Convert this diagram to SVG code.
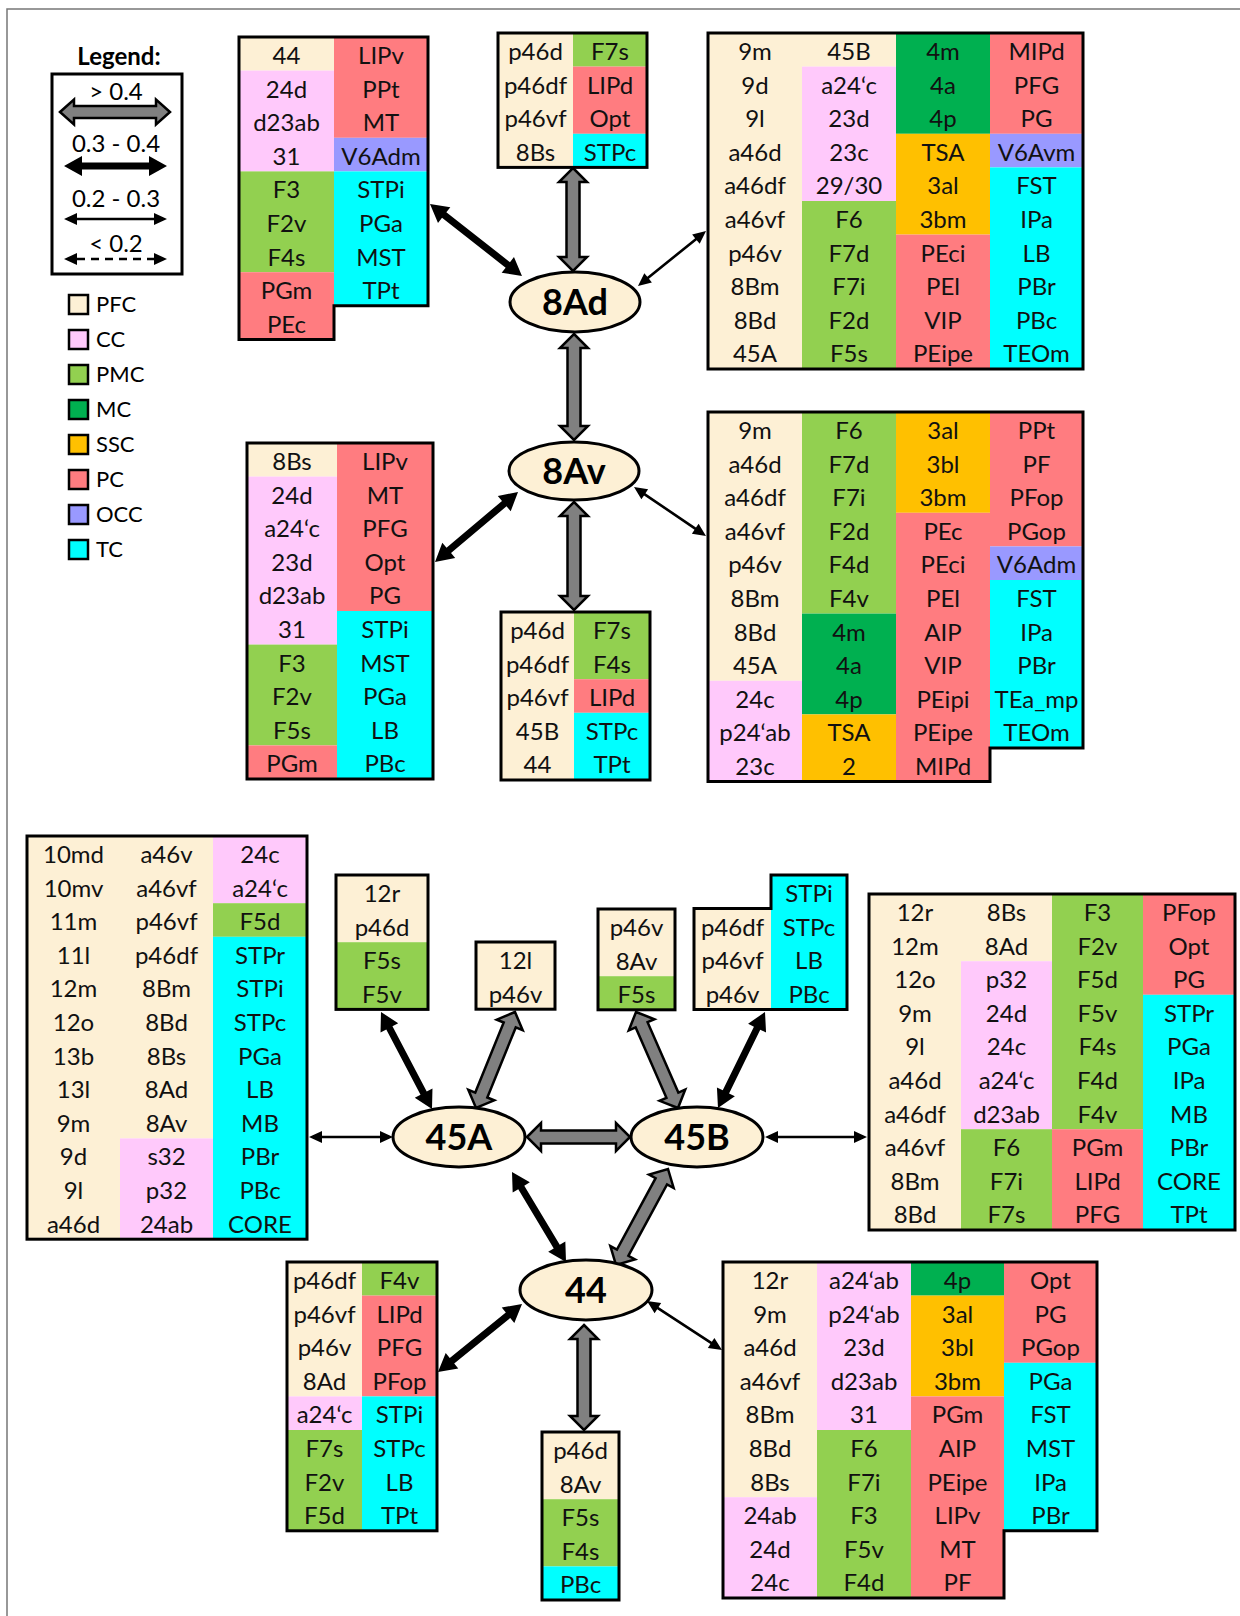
<svg xmlns="http://www.w3.org/2000/svg" width="1240" height="1616" viewBox="0 0 1240 1616">
<style>
.pfc{fill:#FDF0D5}.cc{fill:#FFC9FB}.pmc{fill:#92D050}.mc{fill:#00B050}.ssc{fill:#FFC000}.pc{fill:#FF7C80}.occ{fill:#9999FF}.tc{fill:#00FFFF}
.t{font-family:Lato,"Liberation Sans",sans-serif;font-size:24px;fill:#111;text-anchor:middle}
.ol{fill:none;stroke:#000;stroke-width:3}
.node ellipse{fill:#FDF0D5;stroke:#000;stroke-width:3}
.nl{font-family:Lato,"Liberation Sans",sans-serif;font-weight:bold;font-size:36px;text-anchor:middle;fill:#000}
.ga{fill:#808080;stroke:#000;stroke-width:2.5}
.ba{fill:#000}
.lt{font-family:Lato,"Liberation Sans",sans-serif;font-size:24px;fill:#000;text-anchor:middle}
.sw{stroke:#000;stroke-width:2.5}
.st{font-family:Lato,"Liberation Sans",sans-serif;font-size:22px;fill:#000}
</style>
<rect x="0" y="0" width="1240" height="1616" fill="#fff"/>
<rect x="7" y="9" width="1260" height="1640" fill="none" stroke="#777" stroke-width="1.5"/>

<g id="legend">
<text x="119" y="65" class="lt" font-weight="bold">Legend:</text>
<rect x="52" y="74" width="130" height="200" fill="none" stroke="#000" stroke-width="3"/>
<text x="116" y="100" class="lt">&gt; 0.4</text>
<polygon class="ga" transform="translate(60,112)" points="0,0 14,-12.5 14,-6 96,-6 96,-12.5 110,0 96,12.5 96,6 14,6 14,12.5"/>
<text x="116" y="152" class="lt">0.3 - 0.4</text>
<polygon class="ba" transform="translate(64,166)" points="0,0 18,-10 18,-3.5 85,-3.5 85,-10 103,0 85,10 85,3.5 18,3.5 18,10"/>
<text x="116" y="207" class="lt">0.2 - 0.3</text>
<polygon class="ba" transform="translate(64,219)" points="0,0 13,-6 13,-1.3 90,-1.3 90,-6 103,0 90,6 90,1.3 13,1.3 13,6"/>
<text x="116" y="252" class="lt">&lt; 0.2</text>
<line x1="77" y1="259" x2="154" y2="259" stroke="#000" stroke-width="2.5" stroke-dasharray="8,6"/>
<polygon class="ba" points="64,259 77,253 77,265"/>
<polygon class="ba" points="167,259 154,253 154,265"/>
<rect class="pfc sw" x="69" y="295" width="19" height="19"/><text class="st" x="96" y="312">PFC</text>
<rect class="cc sw" x="69" y="330" width="19" height="19"/><text class="st" x="96" y="347">CC</text>
<rect class="pmc sw" x="69" y="365" width="19" height="19"/><text class="st" x="96" y="382">PMC</text>
<rect class="mc sw" x="69" y="400" width="19" height="19"/><text class="st" x="96" y="417">MC</text>
<rect class="ssc sw" x="69" y="435" width="19" height="19"/><text class="st" x="96" y="452">SSC</text>
<rect class="pc sw" x="69" y="470" width="19" height="19"/><text class="st" x="96" y="487">PC</text>
<rect class="occ sw" x="69" y="505" width="19" height="19"/><text class="st" x="96" y="522">OCC</text>
<rect class="tc sw" x="69" y="540" width="19" height="19"/><text class="st" x="96" y="557">TC</text>
</g>

<g id="connectors">
<polygon class="ga" transform="translate(573,168) rotate(90)" points="0,0 14,-14 14,-6.5 89,-6.5 89,-14 103,0 89,14 89,6.5 14,6.5 14,14"/>
<polygon class="ga" transform="translate(574,334) rotate(90)" points="0,0 14,-14 14,-6.5 92,-6.5 92,-14 106,0 92,14 92,6.5 14,6.5 14,14"/>
<polygon class="ga" transform="translate(574,502) rotate(90)" points="0,0 14,-14 14,-6.5 94,-6.5 94,-14 108,0 94,14 94,6.5 14,6.5 14,14"/>
<polygon class="ga" transform="translate(515,1012) rotate(112.11)" points="0,0 14,-14 14,-6.5 89.6,-6.5 89.6,-14 103.6,0 89.6,14 89.6,6.5 14,6.5 14,14"/>
<polygon class="ga" transform="translate(527,1137)" points="0,0 14,-14 14,-6.5 89,-6.5 89,-14 103,0 89,14 89,6.5 14,6.5 14,14"/>
<polygon class="ga" transform="translate(636,1012) rotate(66.37)" points="0,0 14,-14 14,-6.5 90.8,-6.5 90.8,-14 104.8,0 90.8,14 90.8,6.5 14,6.5 14,14"/>
<polygon class="ga" transform="translate(668,1169) rotate(118.44)" points="0,0 14,-14 14,-6.5 95.2,-6.5 95.2,-14 109.2,0 95.2,14 95.2,6.5 14,6.5 14,14"/>
<polygon class="ga" transform="translate(584,1325) rotate(90)" points="0,0 14,-14 14,-6.5 91,-6.5 91,-14 105,0 91,14 91,6.5 14,6.5 14,14"/>
<polygon class="ba" transform="translate(430,204) rotate(38.05)" points="0,0 18,-10 18,-3.5 98.8,-3.5 98.8,-10 116.8,0 98.8,10 98.8,3.5 18,3.5 18,10"/>
<polygon class="ba" transform="translate(435,562) rotate(-40.14)" points="0,0 18,-10 18,-3.5 90.6,-3.5 90.6,-10 108.6,0 90.6,10 90.6,3.5 18,3.5 18,10"/>
<polygon class="ba" transform="translate(381,1012) rotate(62.27)" points="0,0 18,-10 18,-3.5 91.6,-3.5 91.6,-10 109.6,0 91.6,10 91.6,3.5 18,3.5 18,10"/>
<polygon class="ba" transform="translate(765,1012) rotate(116.09)" points="0,0 18,-10 18,-3.5 88.9,-3.5 88.9,-10 106.9,0 88.9,10 88.9,3.5 18,3.5 18,10"/>
<polygon class="ba" transform="translate(512,1172) rotate(59.04)" points="0,0 18,-10 18,-3.5 87,-3.5 87,-10 105,0 87,10 87,3.5 18,3.5 18,10"/>
<polygon class="ba" transform="translate(438,1372) rotate(-38.99)" points="0,0 18,-10 18,-3.5 90.1,-3.5 90.1,-10 108.1,0 90.1,10 90.1,3.5 18,3.5 18,10"/>
<polygon class="ba" transform="translate(638,286) rotate(-38.97)" points="0,0 13,-6 13,-1.3 74.5,-1.3 74.5,-6 87.5,0 74.5,6 74.5,1.3 13,1.3 13,6"/>
<polygon class="ba" transform="translate(634,487) rotate(34.24)" points="0,0 13,-6 13,-1.3 74.1,-1.3 74.1,-6 87.1,0 74.1,6 74.1,1.3 13,1.3 13,6"/>
<polygon class="ba" transform="translate(309,1137)" points="0,0 13,-6 13,-1.3 71,-1.3 71,-6 84,0 71,6 71,1.3 13,1.3 13,6"/>
<polygon class="ba" transform="translate(765,1137)" points="0,0 13,-6 13,-1.3 89,-1.3 89,-6 102,0 89,6 89,1.3 13,1.3 13,6"/>
<polygon class="ba" transform="translate(647,1301) rotate(33.16)" points="0,0 13,-6 13,-1.3 76.6,-1.3 76.6,-6 89.6,0 76.6,6 76.6,1.3 13,1.3 13,6"/>
</g>

<g id="n8Ad" class="node"><ellipse cx="575" cy="302" rx="65" ry="30"/><text class="nl" x="575" y="315">8Ad</text></g>
<g id="n8Av" class="node"><ellipse cx="574" cy="471" rx="65" ry="29"/><text class="nl" x="574" y="484">8Av</text></g>
<g id="n45A" class="node"><ellipse cx="459" cy="1137" rx="66" ry="30"/><text class="nl" x="459" y="1150">45A</text></g>
<g id="n45B" class="node"><ellipse cx="697" cy="1137" rx="66" ry="30"/><text class="nl" x="697" y="1150">45B</text></g>
<g id="n44" class="node"><ellipse cx="586" cy="1290" rx="66" ry="30"/><text class="nl" x="586" y="1303">44</text></g>

<g id="t8Ad_left" transform="translate(239,37)">
<rect class="pfc" x="0" y="0" width="95" height="33.6"/><rect class="cc" x="0" y="33.6" width="95" height="100.8"/><rect class="pmc" x="0" y="134.4" width="95" height="100.8"/><rect class="pc" x="0" y="235.2" width="95" height="67.2"/>
<rect class="pc" x="95" y="0" width="94" height="100.8"/><rect class="occ" x="95" y="100.8" width="94" height="33.6"/><rect class="tc" x="95" y="134.4" width="94" height="134.4"/>
<text class="t" y="27"><tspan x="47.5">44</tspan><tspan x="47.5" dy="33.6">24d</tspan><tspan x="47.5" dy="33.6">d23ab</tspan><tspan x="47.5" dy="33.6">31</tspan><tspan x="47.5" dy="33.6">F3</tspan><tspan x="47.5" dy="33.6">F2v</tspan><tspan x="47.5" dy="33.6">F4s</tspan><tspan x="47.5" dy="33.6">PGm</tspan><tspan x="47.5" dy="33.6">PEc</tspan></text>
<text class="t" y="27"><tspan x="142">LIPv</tspan><tspan x="142" dy="33.6">PPt</tspan><tspan x="142" dy="33.6">MT</tspan><tspan x="142" dy="33.6">V6Adm</tspan><tspan x="142" dy="33.6">STPi</tspan><tspan x="142" dy="33.6">PGa</tspan><tspan x="142" dy="33.6">MST</tspan><tspan x="142" dy="33.6">TPt</tspan></text>
<path class="ol" d="M0,0 H189 V268.8 H95 V302.4 H0 Z"/>
</g>

<g id="t8Ad_top" transform="translate(498,33)">
<rect class="pfc" x="0" y="0" width="75" height="134.4"/>
<rect class="pmc" x="75" y="0" width="74" height="33.6"/><rect class="pc" x="75" y="33.6" width="74" height="67.2"/><rect class="tc" x="75" y="100.8" width="74" height="33.6"/>
<text class="t" y="27"><tspan x="37.5">p46d</tspan><tspan x="37.5" dy="33.6">p46df</tspan><tspan x="37.5" dy="33.6">p46vf</tspan><tspan x="37.5" dy="33.6">8Bs</tspan></text>
<text class="t" y="27"><tspan x="112">F7s</tspan><tspan x="112" dy="33.6">LIPd</tspan><tspan x="112" dy="33.6">Opt</tspan><tspan x="112" dy="33.6">STPc</tspan></text>
<rect class="ol" x="0" y="0" width="149" height="134.4"/>
</g>

<g id="t8Ad_right" transform="translate(708,33)">
<rect class="pfc" x="0" y="0" width="94" height="336"/>
<rect class="pfc" x="94" y="0" width="94" height="33.6"/><rect class="cc" x="94" y="33.6" width="94" height="134.4"/><rect class="pmc" x="94" y="168" width="94" height="168"/>
<rect class="mc" x="188" y="0" width="94" height="100.8"/><rect class="ssc" x="188" y="100.8" width="94" height="100.8"/><rect class="pc" x="188" y="201.6" width="94" height="134.4"/>
<rect class="pc" x="282" y="0" width="93" height="100.8"/><rect class="occ" x="282" y="100.8" width="93" height="33.6"/><rect class="tc" x="282" y="134.4" width="93" height="201.6"/>
<text class="t" y="27"><tspan x="47">9m</tspan><tspan x="47" dy="33.6">9d</tspan><tspan x="47" dy="33.6">9l</tspan><tspan x="47" dy="33.6">a46d</tspan><tspan x="47" dy="33.6">a46df</tspan><tspan x="47" dy="33.6">a46vf</tspan><tspan x="47" dy="33.6">p46v</tspan><tspan x="47" dy="33.6">8Bm</tspan><tspan x="47" dy="33.6">8Bd</tspan><tspan x="47" dy="33.6">45A</tspan></text>
<text class="t" y="27"><tspan x="141">45B</tspan><tspan x="141" dy="33.6">a24‘c</tspan><tspan x="141" dy="33.6">23d</tspan><tspan x="141" dy="33.6">23c</tspan><tspan x="141" dy="33.6">29/30</tspan><tspan x="141" dy="33.6">F6</tspan><tspan x="141" dy="33.6">F7d</tspan><tspan x="141" dy="33.6">F7i</tspan><tspan x="141" dy="33.6">F2d</tspan><tspan x="141" dy="33.6">F5s</tspan></text>
<text class="t" y="27"><tspan x="235">4m</tspan><tspan x="235" dy="33.6">4a</tspan><tspan x="235" dy="33.6">4p</tspan><tspan x="235" dy="33.6">TSA</tspan><tspan x="235" dy="33.6">3al</tspan><tspan x="235" dy="33.6">3bm</tspan><tspan x="235" dy="33.6">PEci</tspan><tspan x="235" dy="33.6">PEl</tspan><tspan x="235" dy="33.6">VIP</tspan><tspan x="235" dy="33.6">PEipe</tspan></text>
<text class="t" y="27"><tspan x="328.5">MIPd</tspan><tspan x="328.5" dy="33.6">PFG</tspan><tspan x="328.5" dy="33.6">PG</tspan><tspan x="328.5" dy="33.6">V6Avm</tspan><tspan x="328.5" dy="33.6">FST</tspan><tspan x="328.5" dy="33.6">IPa</tspan><tspan x="328.5" dy="33.6">LB</tspan><tspan x="328.5" dy="33.6">PBr</tspan><tspan x="328.5" dy="33.6">PBc</tspan><tspan x="328.5" dy="33.6">TEOm</tspan></text>
<rect class="ol" x="0" y="0" width="375" height="336"/>
</g>

<g id="t8Av_left" transform="translate(247,443)">
<rect class="pfc" x="0" y="0" width="90" height="33.6"/><rect class="cc" x="0" y="33.6" width="90" height="168"/><rect class="pmc" x="0" y="201.6" width="90" height="100.8"/><rect class="pc" x="0" y="302.4" width="90" height="33.6"/>
<rect class="pc" x="90" y="0" width="96" height="168"/><rect class="tc" x="90" y="168" width="96" height="168"/>
<text class="t" y="27"><tspan x="45">8Bs</tspan><tspan x="45" dy="33.6">24d</tspan><tspan x="45" dy="33.6">a24‘c</tspan><tspan x="45" dy="33.6">23d</tspan><tspan x="45" dy="33.6">d23ab</tspan><tspan x="45" dy="33.6">31</tspan><tspan x="45" dy="33.6">F3</tspan><tspan x="45" dy="33.6">F2v</tspan><tspan x="45" dy="33.6">F5s</tspan><tspan x="45" dy="33.6">PGm</tspan></text>
<text class="t" y="27"><tspan x="138">LIPv</tspan><tspan x="138" dy="33.6">MT</tspan><tspan x="138" dy="33.6">PFG</tspan><tspan x="138" dy="33.6">Opt</tspan><tspan x="138" dy="33.6">PG</tspan><tspan x="138" dy="33.6">STPi</tspan><tspan x="138" dy="33.6">MST</tspan><tspan x="138" dy="33.6">PGa</tspan><tspan x="138" dy="33.6">LB</tspan><tspan x="138" dy="33.6">PBc</tspan></text>
<rect class="ol" x="0" y="0" width="186" height="336"/>
</g>

<g id="t8Av_right" transform="translate(708,412)">
<rect class="pfc" x="0" y="0" width="94" height="268.8"/><rect class="cc" x="0" y="268.8" width="94" height="100.8"/>
<rect class="pmc" x="94" y="0" width="94" height="201.6"/><rect class="mc" x="94" y="201.6" width="94" height="100.8"/><rect class="ssc" x="94" y="302.4" width="94" height="67.2"/>
<rect class="ssc" x="188" y="0" width="94" height="100.8"/><rect class="pc" x="188" y="100.8" width="94" height="268.8"/>
<rect class="pc" x="282" y="0" width="93" height="134.4"/><rect class="occ" x="282" y="134.4" width="93" height="33.6"/><rect class="tc" x="282" y="168" width="93" height="168"/>
<text class="t" y="27"><tspan x="47">9m</tspan><tspan x="47" dy="33.6">a46d</tspan><tspan x="47" dy="33.6">a46df</tspan><tspan x="47" dy="33.6">a46vf</tspan><tspan x="47" dy="33.6">p46v</tspan><tspan x="47" dy="33.6">8Bm</tspan><tspan x="47" dy="33.6">8Bd</tspan><tspan x="47" dy="33.6">45A</tspan><tspan x="47" dy="33.6">24c</tspan><tspan x="47" dy="33.6">p24‘ab</tspan><tspan x="47" dy="33.6">23c</tspan></text>
<text class="t" y="27"><tspan x="141">F6</tspan><tspan x="141" dy="33.6">F7d</tspan><tspan x="141" dy="33.6">F7i</tspan><tspan x="141" dy="33.6">F2d</tspan><tspan x="141" dy="33.6">F4d</tspan><tspan x="141" dy="33.6">F4v</tspan><tspan x="141" dy="33.6">4m</tspan><tspan x="141" dy="33.6">4a</tspan><tspan x="141" dy="33.6">4p</tspan><tspan x="141" dy="33.6">TSA</tspan><tspan x="141" dy="33.6">2</tspan></text>
<text class="t" y="27"><tspan x="235">3al</tspan><tspan x="235" dy="33.6">3bl</tspan><tspan x="235" dy="33.6">3bm</tspan><tspan x="235" dy="33.6">PEc</tspan><tspan x="235" dy="33.6">PEci</tspan><tspan x="235" dy="33.6">PEl</tspan><tspan x="235" dy="33.6">AIP</tspan><tspan x="235" dy="33.6">VIP</tspan><tspan x="235" dy="33.6">PEipi</tspan><tspan x="235" dy="33.6">PEipe</tspan><tspan x="235" dy="33.6">MIPd</tspan></text>
<text class="t" y="27"><tspan x="328.5">PPt</tspan><tspan x="328.5" dy="33.6">PF</tspan><tspan x="328.5" dy="33.6">PFop</tspan><tspan x="328.5" dy="33.6">PGop</tspan><tspan x="328.5" dy="33.6">V6Adm</tspan><tspan x="328.5" dy="33.6">FST</tspan><tspan x="328.5" dy="33.6">IPa</tspan><tspan x="328.5" dy="33.6">PBr</tspan><tspan x="328.5" dy="33.6">TEa_mp</tspan><tspan x="328.5" dy="33.6">TEOm</tspan></text>
<path class="ol" d="M0,0 H375 V336 H282 V369.6 H0 Z"/>
</g>

<g id="t8Av_bottom" transform="translate(501,612)">
<rect class="pfc" x="0" y="0" width="73" height="168"/>
<rect class="pmc" x="73" y="0" width="76" height="67.2"/><rect class="pc" x="73" y="67.2" width="76" height="33.6"/><rect class="tc" x="73" y="100.8" width="76" height="67.2"/>
<text class="t" y="27"><tspan x="36.5">p46d</tspan><tspan x="36.5" dy="33.6">p46df</tspan><tspan x="36.5" dy="33.6">p46vf</tspan><tspan x="36.5" dy="33.6">45B</tspan><tspan x="36.5" dy="33.6">44</tspan></text>
<text class="t" y="27"><tspan x="111">F7s</tspan><tspan x="111" dy="33.6">F4s</tspan><tspan x="111" dy="33.6">LIPd</tspan><tspan x="111" dy="33.6">STPc</tspan><tspan x="111" dy="33.6">TPt</tspan></text>
<rect class="ol" x="0" y="0" width="149" height="168"/>
</g>

<g id="t45A_left" transform="translate(27,836)">
<rect class="pfc" x="0" y="0" width="93" height="403.2"/>
<rect class="pfc" x="93" y="0" width="93" height="302.4"/><rect class="cc" x="93" y="302.4" width="93" height="100.8"/>
<rect class="cc" x="186" y="0" width="94" height="67.2"/><rect class="pmc" x="186" y="67.2" width="94" height="33.6"/><rect class="tc" x="186" y="100.8" width="94" height="302.4"/>
<text class="t" y="27"><tspan x="46.5">10md</tspan><tspan x="46.5" dy="33.6">10mv</tspan><tspan x="46.5" dy="33.6">11m</tspan><tspan x="46.5" dy="33.6">11l</tspan><tspan x="46.5" dy="33.6">12m</tspan><tspan x="46.5" dy="33.6">12o</tspan><tspan x="46.5" dy="33.6">13b</tspan><tspan x="46.5" dy="33.6">13l</tspan><tspan x="46.5" dy="33.6">9m</tspan><tspan x="46.5" dy="33.6">9d</tspan><tspan x="46.5" dy="33.6">9l</tspan><tspan x="46.5" dy="33.6">a46d</tspan></text>
<text class="t" y="27"><tspan x="139.5">a46v</tspan><tspan x="139.5" dy="33.6">a46vf</tspan><tspan x="139.5" dy="33.6">p46vf</tspan><tspan x="139.5" dy="33.6">p46df</tspan><tspan x="139.5" dy="33.6">8Bm</tspan><tspan x="139.5" dy="33.6">8Bd</tspan><tspan x="139.5" dy="33.6">8Bs</tspan><tspan x="139.5" dy="33.6">8Ad</tspan><tspan x="139.5" dy="33.6">8Av</tspan><tspan x="139.5" dy="33.6">s32</tspan><tspan x="139.5" dy="33.6">p32</tspan><tspan x="139.5" dy="33.6">24ab</tspan></text>
<text class="t" y="27"><tspan x="233">24c</tspan><tspan x="233" dy="33.6">a24‘c</tspan><tspan x="233" dy="33.6">F5d</tspan><tspan x="233" dy="33.6">STPr</tspan><tspan x="233" dy="33.6">STPi</tspan><tspan x="233" dy="33.6">STPc</tspan><tspan x="233" dy="33.6">PGa</tspan><tspan x="233" dy="33.6">LB</tspan><tspan x="233" dy="33.6">MB</tspan><tspan x="233" dy="33.6">PBr</tspan><tspan x="233" dy="33.6">PBc</tspan><tspan x="233" dy="33.6">CORE</tspan></text>
<rect class="ol" x="0" y="0" width="280" height="403.2"/>
</g>

<g id="t45A_topleft" transform="translate(336,875)">
<rect class="pfc" x="0" y="0" width="92" height="67.2"/><rect class="pmc" x="0" y="67.2" width="92" height="67.2"/>
<text class="t" y="27"><tspan x="46">12r</tspan><tspan x="46" dy="33.6">p46d</tspan><tspan x="46" dy="33.6">F5s</tspan><tspan x="46" dy="33.6">F5v</tspan></text>
<rect class="ol" x="0" y="0" width="92" height="134.4"/>
</g>

<g id="t45A_top" transform="translate(476,942)">
<rect class="pfc" x="0" y="0" width="79" height="67.2"/>
<text class="t" y="27"><tspan x="39.5">12l</tspan><tspan x="39.5" dy="33.6">p46v</tspan></text>
<rect class="ol" x="0" y="0" width="79" height="67.2"/>
</g>

<g id="t45B_top" transform="translate(598,909)">
<rect class="pfc" x="0" y="0" width="77" height="67.2"/><rect class="pmc" x="0" y="67.2" width="77" height="33.6"/>
<text class="t" y="27"><tspan x="38.5">p46v</tspan><tspan x="38.5" dy="33.6">8Av</tspan><tspan x="38.5" dy="33.6">F5s</tspan></text>
<rect class="ol" x="0" y="0" width="77" height="100.8"/>
</g>

<g id="t45B_topright" transform="translate(694,875)">
<rect class="pfc" x="0" y="33.6" width="77" height="100.8"/><rect class="tc" x="77" y="0" width="76" height="134.4"/>
<text class="t" y="60.6"><tspan x="38.5">p46df</tspan><tspan x="38.5" dy="33.6">p46vf</tspan><tspan x="38.5" dy="33.6">p46v</tspan></text>
<text class="t" y="27"><tspan x="115">STPi</tspan><tspan x="115" dy="33.6">STPc</tspan><tspan x="115" dy="33.6">LB</tspan><tspan x="115" dy="33.6">PBc</tspan></text>
<path class="ol" d="M0,33.6 H77 V0 H153 V134.4 H0 Z"/>
</g>

<g id="t45B_right" transform="translate(869,894)">
<rect class="pfc" x="0" y="0" width="92" height="336"/>
<rect class="pfc" x="92" y="0" width="91" height="67.2"/><rect class="cc" x="92" y="67.2" width="91" height="168"/><rect class="pmc" x="92" y="235.2" width="91" height="100.8"/>
<rect class="pmc" x="183" y="0" width="91" height="235.2"/><rect class="pc" x="183" y="235.2" width="91" height="100.8"/>
<rect class="pc" x="274" y="0" width="92" height="100.8"/><rect class="tc" x="274" y="100.8" width="92" height="235.2"/>
<text class="t" y="27"><tspan x="46">12r</tspan><tspan x="46" dy="33.6">12m</tspan><tspan x="46" dy="33.6">12o</tspan><tspan x="46" dy="33.6">9m</tspan><tspan x="46" dy="33.6">9l</tspan><tspan x="46" dy="33.6">a46d</tspan><tspan x="46" dy="33.6">a46df</tspan><tspan x="46" dy="33.6">a46vf</tspan><tspan x="46" dy="33.6">8Bm</tspan><tspan x="46" dy="33.6">8Bd</tspan></text>
<text class="t" y="27"><tspan x="137.5">8Bs</tspan><tspan x="137.5" dy="33.6">8Ad</tspan><tspan x="137.5" dy="33.6">p32</tspan><tspan x="137.5" dy="33.6">24d</tspan><tspan x="137.5" dy="33.6">24c</tspan><tspan x="137.5" dy="33.6">a24‘c</tspan><tspan x="137.5" dy="33.6">d23ab</tspan><tspan x="137.5" dy="33.6">F6</tspan><tspan x="137.5" dy="33.6">F7i</tspan><tspan x="137.5" dy="33.6">F7s</tspan></text>
<text class="t" y="27"><tspan x="228.5">F3</tspan><tspan x="228.5" dy="33.6">F2v</tspan><tspan x="228.5" dy="33.6">F5d</tspan><tspan x="228.5" dy="33.6">F5v</tspan><tspan x="228.5" dy="33.6">F4s</tspan><tspan x="228.5" dy="33.6">F4d</tspan><tspan x="228.5" dy="33.6">F4v</tspan><tspan x="228.5" dy="33.6">PGm</tspan><tspan x="228.5" dy="33.6">LIPd</tspan><tspan x="228.5" dy="33.6">PFG</tspan></text>
<text class="t" y="27"><tspan x="320">PFop</tspan><tspan x="320" dy="33.6">Opt</tspan><tspan x="320" dy="33.6">PG</tspan><tspan x="320" dy="33.6">STPr</tspan><tspan x="320" dy="33.6">PGa</tspan><tspan x="320" dy="33.6">IPa</tspan><tspan x="320" dy="33.6">MB</tspan><tspan x="320" dy="33.6">PBr</tspan><tspan x="320" dy="33.6">CORE</tspan><tspan x="320" dy="33.6">TPt</tspan></text>
<rect class="ol" x="0" y="0" width="366" height="336"/>
</g>

<g id="t44_left" transform="translate(287,1262)">
<rect class="pfc" x="0" y="0" width="75" height="134.4"/><rect class="cc" x="0" y="134.4" width="75" height="33.6"/><rect class="pmc" x="0" y="168" width="75" height="100.8"/>
<rect class="pmc" x="75" y="0" width="75" height="33.6"/><rect class="pc" x="75" y="33.6" width="75" height="100.8"/><rect class="tc" x="75" y="134.4" width="75" height="134.4"/>
<text class="t" y="27"><tspan x="37.5">p46df</tspan><tspan x="37.5" dy="33.6">p46vf</tspan><tspan x="37.5" dy="33.6">p46v</tspan><tspan x="37.5" dy="33.6">8Ad</tspan><tspan x="37.5" dy="33.6">a24‘c</tspan><tspan x="37.5" dy="33.6">F7s</tspan><tspan x="37.5" dy="33.6">F2v</tspan><tspan x="37.5" dy="33.6">F5d</tspan></text>
<text class="t" y="27"><tspan x="112.5">F4v</tspan><tspan x="112.5" dy="33.6">LIPd</tspan><tspan x="112.5" dy="33.6">PFG</tspan><tspan x="112.5" dy="33.6">PFop</tspan><tspan x="112.5" dy="33.6">STPi</tspan><tspan x="112.5" dy="33.6">STPc</tspan><tspan x="112.5" dy="33.6">LB</tspan><tspan x="112.5" dy="33.6">TPt</tspan></text>
<rect class="ol" x="0" y="0" width="150" height="268.8"/>
</g>

<g id="t44_bottom" transform="translate(542,1432)">
<rect class="pfc" x="0" y="0" width="77" height="67.2"/><rect class="pmc" x="0" y="67.2" width="77" height="67.2"/><rect class="tc" x="0" y="134.4" width="77" height="33.6"/>
<text class="t" y="27"><tspan x="38.5">p46d</tspan><tspan x="38.5" dy="33.6">8Av</tspan><tspan x="38.5" dy="33.6">F5s</tspan><tspan x="38.5" dy="33.6">F4s</tspan><tspan x="38.5" dy="33.6">PBc</tspan></text>
<rect class="ol" x="0" y="0" width="77" height="168"/>
</g>

<g id="t44_right" transform="translate(723,1262)">
<rect class="pfc" x="0" y="0" width="94" height="235.2"/><rect class="cc" x="0" y="235.2" width="94" height="100.8"/>
<rect class="cc" x="94" y="0" width="94" height="168"/><rect class="pmc" x="94" y="168" width="94" height="168"/>
<rect class="mc" x="188" y="0" width="93" height="33.6"/><rect class="ssc" x="188" y="33.6" width="93" height="100.8"/><rect class="pc" x="188" y="134.4" width="93" height="201.6"/>
<rect class="pc" x="281" y="0" width="93" height="100.8"/><rect class="tc" x="281" y="100.8" width="93" height="168"/>
<text class="t" y="27"><tspan x="47">12r</tspan><tspan x="47" dy="33.6">9m</tspan><tspan x="47" dy="33.6">a46d</tspan><tspan x="47" dy="33.6">a46vf</tspan><tspan x="47" dy="33.6">8Bm</tspan><tspan x="47" dy="33.6">8Bd</tspan><tspan x="47" dy="33.6">8Bs</tspan><tspan x="47" dy="33.6">24ab</tspan><tspan x="47" dy="33.6">24d</tspan><tspan x="47" dy="33.6">24c</tspan></text>
<text class="t" y="27"><tspan x="141">a24‘ab</tspan><tspan x="141" dy="33.6">p24‘ab</tspan><tspan x="141" dy="33.6">23d</tspan><tspan x="141" dy="33.6">d23ab</tspan><tspan x="141" dy="33.6">31</tspan><tspan x="141" dy="33.6">F6</tspan><tspan x="141" dy="33.6">F7i</tspan><tspan x="141" dy="33.6">F3</tspan><tspan x="141" dy="33.6">F5v</tspan><tspan x="141" dy="33.6">F4d</tspan></text>
<text class="t" y="27"><tspan x="234.5">4p</tspan><tspan x="234.5" dy="33.6">3al</tspan><tspan x="234.5" dy="33.6">3bl</tspan><tspan x="234.5" dy="33.6">3bm</tspan><tspan x="234.5" dy="33.6">PGm</tspan><tspan x="234.5" dy="33.6">AIP</tspan><tspan x="234.5" dy="33.6">PEipe</tspan><tspan x="234.5" dy="33.6">LIPv</tspan><tspan x="234.5" dy="33.6">MT</tspan><tspan x="234.5" dy="33.6">PF</tspan></text>
<text class="t" y="27"><tspan x="327.5">Opt</tspan><tspan x="327.5" dy="33.6">PG</tspan><tspan x="327.5" dy="33.6">PGop</tspan><tspan x="327.5" dy="33.6">PGa</tspan><tspan x="327.5" dy="33.6">FST</tspan><tspan x="327.5" dy="33.6">MST</tspan><tspan x="327.5" dy="33.6">IPa</tspan><tspan x="327.5" dy="33.6">PBr</tspan></text>
<path class="ol" d="M0,0 H374 V268.8 H281 V336 H0 Z"/>
</g>
</svg>
